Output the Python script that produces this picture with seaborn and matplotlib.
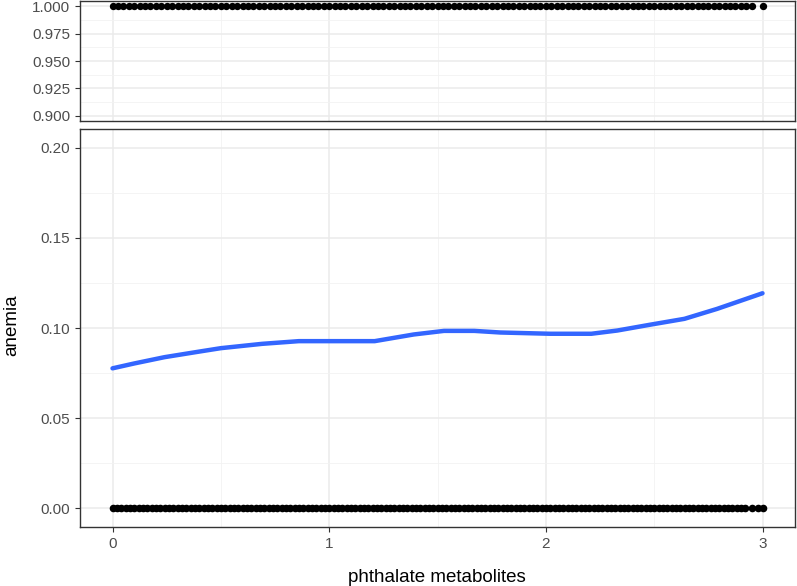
import numpy as np
import pandas as pd
import matplotlib
matplotlib.use("Agg")
import matplotlib.pyplot as plt
import seaborn as sns

# observed x positions of the anemia == 1 cases (top strip)
x_top = [0.000, 0.025, 0.050, 0.075, 0.100, 0.125, 0.150, 0.175,
         0.200, 0.225, 0.250, 0.275, 0.300, 0.325, 0.350, 0.375,
         0.400, 0.425, 0.450, 0.475, 0.500, 0.525, 0.550, 0.575,
         0.600, 0.625, 0.650, 0.675, 0.700, 0.725, 0.750, 0.775,
         0.800, 0.825, 0.850, 0.875, 0.900, 0.925, 0.950, 0.975,
         1.000, 1.025, 1.050, 1.075, 1.100, 1.125, 1.150, 1.175,
         1.200, 1.225, 1.250, 1.275, 1.300, 1.325, 1.350, 1.375,
         1.400, 1.425, 1.450, 1.475, 1.500, 1.525, 1.550, 1.575,
         1.600, 1.625, 1.650, 1.675, 1.700, 1.725, 1.750, 1.775,
         1.800, 1.825, 1.850, 1.875, 1.900, 1.925, 1.950, 1.975,
         2.000, 2.025, 2.050, 2.075, 2.100, 2.125, 2.150, 2.175,
         2.200, 2.225, 2.250, 2.275, 2.300, 2.325, 2.350, 2.375,
         2.400, 2.425, 2.450, 2.475, 2.500, 2.525, 2.550, 2.575,
         2.600, 2.625, 2.650, 2.675, 2.700, 2.725, 2.750, 2.775,
         2.800, 2.825, 2.850, 2.875, 2.900, 2.925, 2.950, 3.000]

# observed x positions of the anemia == 0 cases (bottom strip)
x_bottom = [0.00, 0.02, 0.04, 0.06, 0.08, 0.10, 0.12, 0.14, 0.16, 0.18,
            0.20, 0.22, 0.24, 0.26, 0.28, 0.30, 0.32, 0.34, 0.36, 0.38,
            0.40, 0.42, 0.44, 0.46, 0.48, 0.50, 0.52, 0.54, 0.56, 0.58,
            0.60, 0.62, 0.64, 0.66, 0.68, 0.70, 0.72, 0.74, 0.76, 0.78,
            0.80, 0.82, 0.84, 0.86, 0.88, 0.90, 0.92, 0.94, 0.96, 0.98,
            1.00, 1.02, 1.04, 1.06, 1.08, 1.10, 1.12, 1.14, 1.16, 1.18,
            1.20, 1.22, 1.24, 1.26, 1.28, 1.30, 1.32, 1.34, 1.36, 1.38,
            1.40, 1.42, 1.44, 1.46, 1.48, 1.50, 1.52, 1.54, 1.56, 1.58,
            1.60, 1.62, 1.64, 1.66, 1.68, 1.70, 1.72, 1.74, 1.76, 1.78,
            1.80, 1.82, 1.84, 1.86, 1.88, 1.90, 1.92, 1.94, 1.96, 1.98,
            2.00, 2.02, 2.04, 2.06, 2.08, 2.10, 2.12, 2.14, 2.16, 2.18,
            2.20, 2.22, 2.24, 2.26, 2.28, 2.30, 2.32, 2.34, 2.36, 2.38,
            2.40, 2.42, 2.44, 2.46, 2.48, 2.50, 2.52, 2.54, 2.56, 2.58,
            2.60, 2.62, 2.64, 2.66, 2.68, 2.70, 2.72, 2.74, 2.76, 2.78,
            2.80, 2.82, 2.84, 2.86, 2.88, 2.90, 2.92, 2.95, 2.98, 3.00]

# smoothed probability of anemia
smooth_x = [0.00, 0.10, 0.24, 0.40, 0.50, 0.69, 0.86, 1.00, 1.21, 1.39,
            1.53, 1.67, 1.79, 2.02, 2.21, 2.33, 2.48, 2.64, 2.79, 3.00]
smooth_y = [0.0776, 0.0803, 0.0838, 0.0869, 0.0888, 0.0912, 0.0927, 0.0927,
            0.0927, 0.0964, 0.0984, 0.0984, 0.0975, 0.0968, 0.0968, 0.0986,
            0.1018, 0.1051, 0.1106, 0.1193]

top_df = pd.DataFrame({"x": x_top, "anemia": 1.0})
bottom_df = pd.DataFrame({"x": x_bottom, "anemia": 0.0})
smooth_df = pd.DataFrame({"x": smooth_x, "anemia": smooth_y})

sns.set_style("white")
plt.rcParams["font.family"] = ["Liberation Sans", "DejaVu Sans"]

W, H = 797, 586
fig = plt.figure(figsize=(W / 100, H / 100), dpi=100)
ax_top = fig.add_axes([80 / W, (H - 121) / H, 715 / W, 120 / H])
ax_bot = fig.add_axes([80 / W, (H - 527) / H, 715 / W, 398 / H])


def style_axes(ax, yticks, yminor, ylim, fmt):
    ax.set_xlim(-0.15, 3.15)
    ax.set_ylim(*ylim)
    ax.set_xticks([0, 1, 2, 3])
    ax.set_xticks([0.5, 1.5, 2.5], minor=True)
    ax.set_yticks(yticks)
    ax.set_yticks(yminor, minor=True)
    ax.set_yticklabels([fmt.format(v) for v in yticks])
    ax.grid(which="major", color="#EBEBEB", linewidth=1.1)
    ax.grid(which="minor", color="#F2F2F2", linewidth=0.6)
    ax.set_axisbelow(True)
    for s in ax.spines.values():
        s.set_color("#333333")
        s.set_linewidth(1.0)
    ax.tick_params(axis="both", which="major", length=3.5, width=0.8,
                   bottom=True, left=True, color="#333333",
                   labelcolor="#4D4D4D", labelsize=11)
    ax.tick_params(which="minor", length=0)
    ax.set_xlabel("")
    ax.set_ylabel("")


sns.scatterplot(data=top_df, x="x", y="anemia", ax=ax_top, color="black",
                s=28, linewidth=0, zorder=3)
style_axes(ax_top, [0.900, 0.925, 0.950, 0.975, 1.000],
           [0.9125, 0.9375, 0.9625, 0.9875], (0.895, 1.005), "{:.3f}")
ax_top.tick_params(axis="x", which="major", bottom=False, labelbottom=False)

sns.scatterplot(data=bottom_df, x="x", y="anemia", ax=ax_bot, color="black",
                s=30, linewidth=0, zorder=3)
sns.lineplot(data=smooth_df, x="x", y="anemia", ax=ax_bot, color="#3366FF",
             linewidth=3.2, zorder=4)
style_axes(ax_bot, [0.00, 0.05, 0.10, 0.15, 0.20],
           [0.025, 0.075, 0.125, 0.175], (-0.0105, 0.2105), "{:.2f}")
ax_bot.set_xticklabels(["0", "1", "2", "3"])

fig.text(437 / W, 1 - 577 / H, "phthalate metabolites", ha="center",
         va="center", fontsize=13.5, color="black")
fig.text(12 / W, 1 - 325 / H, "anemia", ha="center", va="center",
         rotation=90, fontsize=13.5, color="black")

fig.savefig("out.png", dpi=100)
